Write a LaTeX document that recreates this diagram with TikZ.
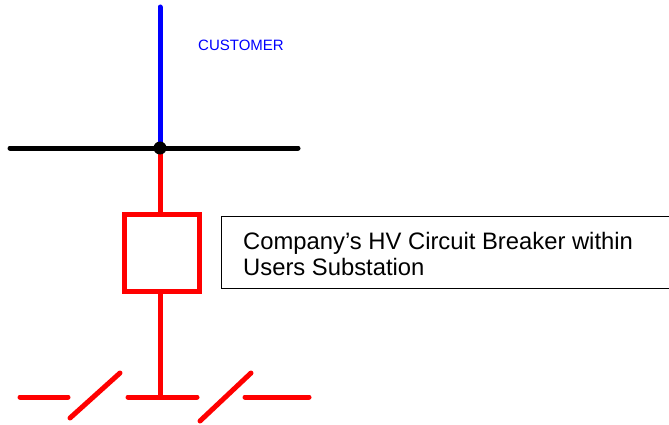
\documentclass[tikz,border=0pt]{standalone}
\usepackage{fontspec}
\setmainfont{Liberation Sans}
\begin{document}
\begin{tikzpicture}[x=1pt,y=-1pt,
  wire/.style={line width=5pt,line cap=round},
  redw/.style={wire,draw={rgb,255:red,255;green,0;blue,0}},
  lbl/.style={font=\fontsize{23.8}{26}\selectfont,align=left,inner sep=0pt}]
\useasboundingbox (0,0) rectangle (669,425);
\coordinate (top) at (160,7);
\coordinate (bus) at (160,148);
\coordinate (busL) at (10,148);
\coordinate (busR) at (298,148);
\draw[wire,draw=blue] (top) -- (bus);
\draw[wire] (busL) -- (busR);
\node[draw={rgb,255:red,255;green,0;blue,0},line width=5pt,minimum width=75pt,minimum height=77pt,inner sep=0pt] (cb) at (162,253) {};
\draw[redw,line cap=butt] (bus) -- (cb.north -| bus);
\coordinate (gnd) at (160,397);
\draw[redw,line cap=butt] (cb.south -| bus) -- (gnd);
\fill (bus) circle (6.5);
\coordinate (l1) at (20,397); \coordinate (l2) at (68,397);
\coordinate (s1a) at (70,418); \coordinate (s1b) at (120,373);
\coordinate (m1) at (128,397); \coordinate (m2) at (197,397);
\coordinate (s2a) at (200,421); \coordinate (s2b) at (251,373);
\coordinate (r1) at (245,397); \coordinate (r2) at (309,397);
\draw[redw] (l1) -- (l2);
\draw[redw] (s1a) -- (s1b);
\draw[redw] (m1) -- (m2);
\draw[redw] (s2a) -- (s2b);
\draw[redw] (r1) -- (r2);
\node[text=blue,font=\fontsize{15}{18}\selectfont,anchor=base west,inner sep=0pt] (cust) at (198,50.5) {CUSTOMER};
\node[draw,line width=1pt,minimum width=448pt,minimum height=72pt,anchor=north west,inner sep=0pt] (box) at (220.5,216) {};
\node[lbl,anchor=base west] (txt) at (243,275) {Company’s HV Circuit Breaker within\\Users Substation};
\end{tikzpicture}
\end{document}
